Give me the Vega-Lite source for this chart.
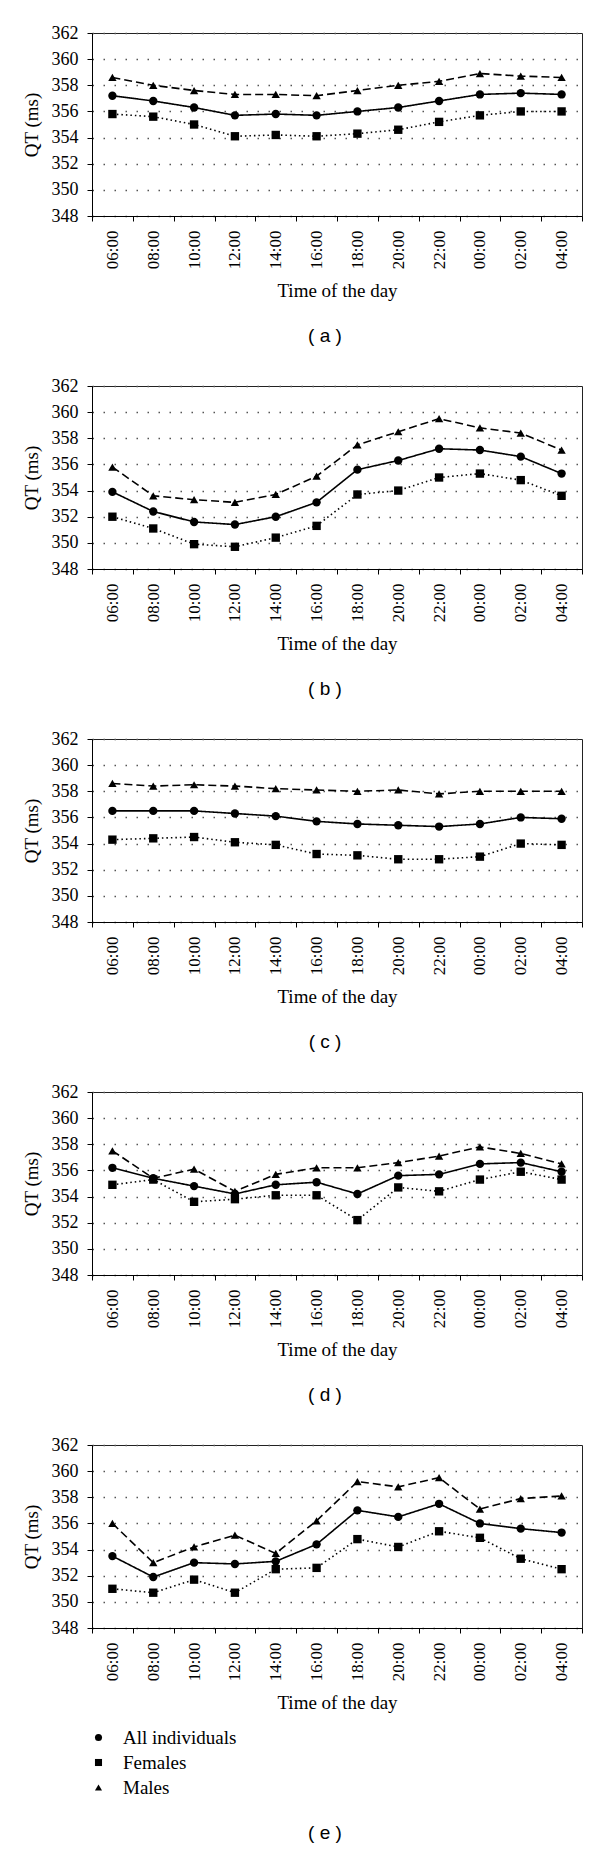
{
  "$schema": "https://vega.github.io/schema/vega-lite/v6.json",
  "padding": {"left": 21, "top": 23, "right": 5, "bottom": 5},
  "background": "white",
  "spacing": 29,
  "config": {
    "view": {"stroke": "#222", "strokeWidth": 1},
    "font": "Liberation Serif",
    "axis": {"labelFont": "Liberation Serif", "labelFontSize": 18, "labelColor": "black", "titleFont": "Liberation Serif", "titleFontSize": 19, "titleFontWeight": "normal", "titleColor": "black", "domainColor": "black", "tickColor": "black", "tickSize": 5},
    "axisX": {"labelFontSize": 17},
    "title": {"font": "Liberation Sans", "fontSize": 19, "fontWeight": "normal", "color": "black", "orient": "bottom", "offset": 26, "dx": -12},
    "point": {"size": 70, "filled": true, "color": "black", "opacity": 1}
  },
  "resolve": {"scale": {"shape": "independent", "strokeDash": "independent"}, "legend": {"shape": "independent", "strokeDash": "independent"}},
  "data": {"values": [
    {"panel":"a","time":"06:00","group":"All individuals","qt":357.2},{"panel":"a","time":"08:00","group":"All individuals","qt":356.8},{"panel":"a","time":"10:00","group":"All individuals","qt":356.3},{"panel":"a","time":"12:00","group":"All individuals","qt":355.7},{"panel":"a","time":"14:00","group":"All individuals","qt":355.8},{"panel":"a","time":"16:00","group":"All individuals","qt":355.7},{"panel":"a","time":"18:00","group":"All individuals","qt":356.0},{"panel":"a","time":"20:00","group":"All individuals","qt":356.3},{"panel":"a","time":"22:00","group":"All individuals","qt":356.8},{"panel":"a","time":"00:00","group":"All individuals","qt":357.3},{"panel":"a","time":"02:00","group":"All individuals","qt":357.4},{"panel":"a","time":"04:00","group":"All individuals","qt":357.3},
    {"panel":"a","time":"06:00","group":"Females","qt":355.8},{"panel":"a","time":"08:00","group":"Females","qt":355.6},{"panel":"a","time":"10:00","group":"Females","qt":355.0},{"panel":"a","time":"12:00","group":"Females","qt":354.1},{"panel":"a","time":"14:00","group":"Females","qt":354.2},{"panel":"a","time":"16:00","group":"Females","qt":354.1},{"panel":"a","time":"18:00","group":"Females","qt":354.3},{"panel":"a","time":"20:00","group":"Females","qt":354.6},{"panel":"a","time":"22:00","group":"Females","qt":355.2},{"panel":"a","time":"00:00","group":"Females","qt":355.7},{"panel":"a","time":"02:00","group":"Females","qt":356.0},{"panel":"a","time":"04:00","group":"Females","qt":356.0},
    {"panel":"a","time":"06:00","group":"Males","qt":358.6},{"panel":"a","time":"08:00","group":"Males","qt":358.0},{"panel":"a","time":"10:00","group":"Males","qt":357.6},{"panel":"a","time":"12:00","group":"Males","qt":357.3},{"panel":"a","time":"14:00","group":"Males","qt":357.3},{"panel":"a","time":"16:00","group":"Males","qt":357.2},{"panel":"a","time":"18:00","group":"Males","qt":357.6},{"panel":"a","time":"20:00","group":"Males","qt":358.0},{"panel":"a","time":"22:00","group":"Males","qt":358.3},{"panel":"a","time":"00:00","group":"Males","qt":358.9},{"panel":"a","time":"02:00","group":"Males","qt":358.7},{"panel":"a","time":"04:00","group":"Males","qt":358.6},

    {"panel":"b","time":"06:00","group":"All individuals","qt":353.9},{"panel":"b","time":"08:00","group":"All individuals","qt":352.4},{"panel":"b","time":"10:00","group":"All individuals","qt":351.6},{"panel":"b","time":"12:00","group":"All individuals","qt":351.4},{"panel":"b","time":"14:00","group":"All individuals","qt":352.0},{"panel":"b","time":"16:00","group":"All individuals","qt":353.1},{"panel":"b","time":"18:00","group":"All individuals","qt":355.6},{"panel":"b","time":"20:00","group":"All individuals","qt":356.3},{"panel":"b","time":"22:00","group":"All individuals","qt":357.2},{"panel":"b","time":"00:00","group":"All individuals","qt":357.1},{"panel":"b","time":"02:00","group":"All individuals","qt":356.6},{"panel":"b","time":"04:00","group":"All individuals","qt":355.3},
    {"panel":"b","time":"06:00","group":"Females","qt":352.0},{"panel":"b","time":"08:00","group":"Females","qt":351.1},{"panel":"b","time":"10:00","group":"Females","qt":349.9},{"panel":"b","time":"12:00","group":"Females","qt":349.7},{"panel":"b","time":"14:00","group":"Females","qt":350.4},{"panel":"b","time":"16:00","group":"Females","qt":351.3},{"panel":"b","time":"18:00","group":"Females","qt":353.7},{"panel":"b","time":"20:00","group":"Females","qt":354.0},{"panel":"b","time":"22:00","group":"Females","qt":355.0},{"panel":"b","time":"00:00","group":"Females","qt":355.3},{"panel":"b","time":"02:00","group":"Females","qt":354.8},{"panel":"b","time":"04:00","group":"Females","qt":353.6},
    {"panel":"b","time":"06:00","group":"Males","qt":355.8},{"panel":"b","time":"08:00","group":"Males","qt":353.6},{"panel":"b","time":"10:00","group":"Males","qt":353.3},{"panel":"b","time":"12:00","group":"Males","qt":353.1},{"panel":"b","time":"14:00","group":"Males","qt":353.7},{"panel":"b","time":"16:00","group":"Males","qt":355.1},{"panel":"b","time":"18:00","group":"Males","qt":357.5},{"panel":"b","time":"20:00","group":"Males","qt":358.5},{"panel":"b","time":"22:00","group":"Males","qt":359.5},{"panel":"b","time":"00:00","group":"Males","qt":358.8},{"panel":"b","time":"02:00","group":"Males","qt":358.4},{"panel":"b","time":"04:00","group":"Males","qt":357.1},

    {"panel":"c","time":"06:00","group":"All individuals","qt":356.5},{"panel":"c","time":"08:00","group":"All individuals","qt":356.5},{"panel":"c","time":"10:00","group":"All individuals","qt":356.5},{"panel":"c","time":"12:00","group":"All individuals","qt":356.3},{"panel":"c","time":"14:00","group":"All individuals","qt":356.1},{"panel":"c","time":"16:00","group":"All individuals","qt":355.7},{"panel":"c","time":"18:00","group":"All individuals","qt":355.5},{"panel":"c","time":"20:00","group":"All individuals","qt":355.4},{"panel":"c","time":"22:00","group":"All individuals","qt":355.3},{"panel":"c","time":"00:00","group":"All individuals","qt":355.5},{"panel":"c","time":"02:00","group":"All individuals","qt":356.0},{"panel":"c","time":"04:00","group":"All individuals","qt":355.9},
    {"panel":"c","time":"06:00","group":"Females","qt":354.3},{"panel":"c","time":"08:00","group":"Females","qt":354.4},{"panel":"c","time":"10:00","group":"Females","qt":354.5},{"panel":"c","time":"12:00","group":"Females","qt":354.1},{"panel":"c","time":"14:00","group":"Females","qt":353.9},{"panel":"c","time":"16:00","group":"Females","qt":353.2},{"panel":"c","time":"18:00","group":"Females","qt":353.1},{"panel":"c","time":"20:00","group":"Females","qt":352.8},{"panel":"c","time":"22:00","group":"Females","qt":352.8},{"panel":"c","time":"00:00","group":"Females","qt":353.0},{"panel":"c","time":"02:00","group":"Females","qt":354.0},{"panel":"c","time":"04:00","group":"Females","qt":353.9},
    {"panel":"c","time":"06:00","group":"Males","qt":358.6},{"panel":"c","time":"08:00","group":"Males","qt":358.4},{"panel":"c","time":"10:00","group":"Males","qt":358.5},{"panel":"c","time":"12:00","group":"Males","qt":358.4},{"panel":"c","time":"14:00","group":"Males","qt":358.2},{"panel":"c","time":"16:00","group":"Males","qt":358.1},{"panel":"c","time":"18:00","group":"Males","qt":358.0},{"panel":"c","time":"20:00","group":"Males","qt":358.1},{"panel":"c","time":"22:00","group":"Males","qt":357.8},{"panel":"c","time":"00:00","group":"Males","qt":358.0},{"panel":"c","time":"02:00","group":"Males","qt":358.0},{"panel":"c","time":"04:00","group":"Males","qt":358.0},

    {"panel":"d","time":"06:00","group":"All individuals","qt":356.2},{"panel":"d","time":"08:00","group":"All individuals","qt":355.4},{"panel":"d","time":"10:00","group":"All individuals","qt":354.8},{"panel":"d","time":"12:00","group":"All individuals","qt":354.2},{"panel":"d","time":"14:00","group":"All individuals","qt":354.9},{"panel":"d","time":"16:00","group":"All individuals","qt":355.1},{"panel":"d","time":"18:00","group":"All individuals","qt":354.2},{"panel":"d","time":"20:00","group":"All individuals","qt":355.6},{"panel":"d","time":"22:00","group":"All individuals","qt":355.7},{"panel":"d","time":"00:00","group":"All individuals","qt":356.5},{"panel":"d","time":"02:00","group":"All individuals","qt":356.6},{"panel":"d","time":"04:00","group":"All individuals","qt":355.9},
    {"panel":"d","time":"06:00","group":"Females","qt":354.9},{"panel":"d","time":"08:00","group":"Females","qt":355.3},{"panel":"d","time":"10:00","group":"Females","qt":353.6},{"panel":"d","time":"12:00","group":"Females","qt":353.8},{"panel":"d","time":"14:00","group":"Females","qt":354.1},{"panel":"d","time":"16:00","group":"Females","qt":354.1},{"panel":"d","time":"18:00","group":"Females","qt":352.2},{"panel":"d","time":"20:00","group":"Females","qt":354.7},{"panel":"d","time":"22:00","group":"Females","qt":354.4},{"panel":"d","time":"00:00","group":"Females","qt":355.3},{"panel":"d","time":"02:00","group":"Females","qt":355.9},{"panel":"d","time":"04:00","group":"Females","qt":355.3},
    {"panel":"d","time":"06:00","group":"Males","qt":357.5},{"panel":"d","time":"08:00","group":"Males","qt":355.4},{"panel":"d","time":"10:00","group":"Males","qt":356.1},{"panel":"d","time":"12:00","group":"Males","qt":354.4},{"panel":"d","time":"14:00","group":"Males","qt":355.7},{"panel":"d","time":"16:00","group":"Males","qt":356.2},{"panel":"d","time":"18:00","group":"Males","qt":356.2},{"panel":"d","time":"20:00","group":"Males","qt":356.6},{"panel":"d","time":"22:00","group":"Males","qt":357.1},{"panel":"d","time":"00:00","group":"Males","qt":357.8},{"panel":"d","time":"02:00","group":"Males","qt":357.3},{"panel":"d","time":"04:00","group":"Males","qt":356.5},

    {"panel":"e","time":"06:00","group":"All individuals","qt":353.5},{"panel":"e","time":"08:00","group":"All individuals","qt":351.9},{"panel":"e","time":"10:00","group":"All individuals","qt":353.0},{"panel":"e","time":"12:00","group":"All individuals","qt":352.9},{"panel":"e","time":"14:00","group":"All individuals","qt":353.1},{"panel":"e","time":"16:00","group":"All individuals","qt":354.4},{"panel":"e","time":"18:00","group":"All individuals","qt":357.0},{"panel":"e","time":"20:00","group":"All individuals","qt":356.5},{"panel":"e","time":"22:00","group":"All individuals","qt":357.5},{"panel":"e","time":"00:00","group":"All individuals","qt":356.0},{"panel":"e","time":"02:00","group":"All individuals","qt":355.6},{"panel":"e","time":"04:00","group":"All individuals","qt":355.3},
    {"panel":"e","time":"06:00","group":"Females","qt":351.0},{"panel":"e","time":"08:00","group":"Females","qt":350.7},{"panel":"e","time":"10:00","group":"Females","qt":351.7},{"panel":"e","time":"12:00","group":"Females","qt":350.7},{"panel":"e","time":"14:00","group":"Females","qt":352.5},{"panel":"e","time":"16:00","group":"Females","qt":352.6},{"panel":"e","time":"18:00","group":"Females","qt":354.8},{"panel":"e","time":"20:00","group":"Females","qt":354.2},{"panel":"e","time":"22:00","group":"Females","qt":355.4},{"panel":"e","time":"00:00","group":"Females","qt":354.9},{"panel":"e","time":"02:00","group":"Females","qt":353.3},{"panel":"e","time":"04:00","group":"Females","qt":352.5},
    {"panel":"e","time":"06:00","group":"Males","qt":356.0},{"panel":"e","time":"08:00","group":"Males","qt":353.0},{"panel":"e","time":"10:00","group":"Males","qt":354.2},{"panel":"e","time":"12:00","group":"Males","qt":355.1},{"panel":"e","time":"14:00","group":"Males","qt":353.7},{"panel":"e","time":"16:00","group":"Males","qt":356.2},{"panel":"e","time":"18:00","group":"Males","qt":359.2},{"panel":"e","time":"20:00","group":"Males","qt":358.8},{"panel":"e","time":"22:00","group":"Males","qt":359.5},{"panel":"e","time":"00:00","group":"Males","qt":357.1},{"panel":"e","time":"02:00","group":"Males","qt":357.9},{"panel":"e","time":"04:00","group":"Males","qt":358.1}
  ]},
  "vconcat": [
    {
      "width": 490, "height": 183,
      "title": {"text": "( a )"},
      "transform": [{"filter": "datum.panel == 'a'"}],
      "encoding": {
        "x": {"field": "time", "type": "ordinal", "sort": ["06:00","08:00","10:00","12:00","14:00","16:00","18:00","20:00","22:00","00:00","02:00","04:00"], "scale": {"type": "band", "paddingInner": 0, "paddingOuter": 0}, "axis": {"title": "Time of the day", "labelAngle": -90, "tickBand": "extent", "labelPadding": 9, "titlePadding": 13, "grid": false}},
        "y": {"field": "qt", "type": "quantitative", "scale": {"domain": [348, 362], "zero": false, "nice": false}, "axis": {"title": "QT (ms)", "values": [348,350,352,354,356,358,360,362], "labelPadding": 9, "titlePadding": 10, "grid": true, "gridDash": [1.5, 9.5], "gridColor": "#555", "gridWidth": 1.3}}
      },
      "layer": [
        {"mark": {"type": "line", "color": "black", "strokeWidth": 1.6}, "encoding": {"strokeDash": {"field": "group", "type": "nominal", "scale": {"range": [[1,0],[1.5,3],[8,4]]}, "legend": null}}},
        {"mark": {"type": "point"}, "encoding": {"shape": {"field": "group", "type": "nominal", "scale": {"domain": ["All individuals","Females","Males"], "range": ["circle","square","triangle-up"]}, "legend": null}}}
      ]
    },
    {
      "width": 490, "height": 183,
      "title": {"text": "( b )"},
      "transform": [{"filter": "datum.panel == 'b'"}],
      "encoding": {
        "x": {"field": "time", "type": "ordinal", "sort": ["06:00","08:00","10:00","12:00","14:00","16:00","18:00","20:00","22:00","00:00","02:00","04:00"], "scale": {"type": "band", "paddingInner": 0, "paddingOuter": 0}, "axis": {"title": "Time of the day", "labelAngle": -90, "tickBand": "extent", "labelPadding": 9, "titlePadding": 13, "grid": false}},
        "y": {"field": "qt", "type": "quantitative", "scale": {"domain": [348, 362], "zero": false, "nice": false}, "axis": {"title": "QT (ms)", "values": [348,350,352,354,356,358,360,362], "labelPadding": 9, "titlePadding": 10, "grid": true, "gridDash": [1.5, 9.5], "gridColor": "#555", "gridWidth": 1.3}}
      },
      "layer": [
        {"mark": {"type": "line", "color": "black", "strokeWidth": 1.6}, "encoding": {"strokeDash": {"field": "group", "type": "nominal", "scale": {"range": [[1,0],[1.5,3],[8,4]]}, "legend": null}}},
        {"mark": {"type": "point"}, "encoding": {"shape": {"field": "group", "type": "nominal", "scale": {"domain": ["All individuals","Females","Males"], "range": ["circle","square","triangle-up"]}, "legend": null}}}
      ]
    },
    {
      "width": 490, "height": 183,
      "title": {"text": "( c )"},
      "transform": [{"filter": "datum.panel == 'c'"}],
      "encoding": {
        "x": {"field": "time", "type": "ordinal", "sort": ["06:00","08:00","10:00","12:00","14:00","16:00","18:00","20:00","22:00","00:00","02:00","04:00"], "scale": {"type": "band", "paddingInner": 0, "paddingOuter": 0}, "axis": {"title": "Time of the day", "labelAngle": -90, "tickBand": "extent", "labelPadding": 9, "titlePadding": 13, "grid": false}},
        "y": {"field": "qt", "type": "quantitative", "scale": {"domain": [348, 362], "zero": false, "nice": false}, "axis": {"title": "QT (ms)", "values": [348,350,352,354,356,358,360,362], "labelPadding": 9, "titlePadding": 10, "grid": true, "gridDash": [1.5, 9.5], "gridColor": "#555", "gridWidth": 1.3}}
      },
      "layer": [
        {"mark": {"type": "line", "color": "black", "strokeWidth": 1.6}, "encoding": {"strokeDash": {"field": "group", "type": "nominal", "scale": {"range": [[1,0],[1.5,3],[8,4]]}, "legend": null}}},
        {"mark": {"type": "point"}, "encoding": {"shape": {"field": "group", "type": "nominal", "scale": {"domain": ["All individuals","Females","Males"], "range": ["circle","square","triangle-up"]}, "legend": null}}}
      ]
    },
    {
      "width": 490, "height": 183,
      "title": {"text": "( d )"},
      "transform": [{"filter": "datum.panel == 'd'"}],
      "encoding": {
        "x": {"field": "time", "type": "ordinal", "sort": ["06:00","08:00","10:00","12:00","14:00","16:00","18:00","20:00","22:00","00:00","02:00","04:00"], "scale": {"type": "band", "paddingInner": 0, "paddingOuter": 0}, "axis": {"title": "Time of the day", "labelAngle": -90, "tickBand": "extent", "labelPadding": 9, "titlePadding": 13, "grid": false}},
        "y": {"field": "qt", "type": "quantitative", "scale": {"domain": [348, 362], "zero": false, "nice": false}, "axis": {"title": "QT (ms)", "values": [348,350,352,354,356,358,360,362], "labelPadding": 9, "titlePadding": 10, "grid": true, "gridDash": [1.5, 9.5], "gridColor": "#555", "gridWidth": 1.3}}
      },
      "layer": [
        {"mark": {"type": "line", "color": "black", "strokeWidth": 1.6}, "encoding": {"strokeDash": {"field": "group", "type": "nominal", "scale": {"range": [[1,0],[1.5,3],[8,4]]}, "legend": null}}},
        {"mark": {"type": "point"}, "encoding": {"shape": {"field": "group", "type": "nominal", "scale": {"domain": ["All individuals","Females","Males"], "range": ["circle","square","triangle-up"]}, "legend": null}}}
      ]
    },
    {
      "width": 490, "height": 183,
      "title": {"text": "( e )"},
      "transform": [{"filter": "datum.panel == 'e'"}],
      "encoding": {
        "x": {"field": "time", "type": "ordinal", "sort": ["06:00","08:00","10:00","12:00","14:00","16:00","18:00","20:00","22:00","00:00","02:00","04:00"], "scale": {"type": "band", "paddingInner": 0, "paddingOuter": 0}, "axis": {"title": "Time of the day", "labelAngle": -90, "tickBand": "extent", "labelPadding": 9, "titlePadding": 13, "grid": false}},
        "y": {"field": "qt", "type": "quantitative", "scale": {"domain": [348, 362], "zero": false, "nice": false}, "axis": {"title": "QT (ms)", "values": [348,350,352,354,356,358,360,362], "labelPadding": 9, "titlePadding": 10, "grid": true, "gridDash": [1.5, 9.5], "gridColor": "#555", "gridWidth": 1.3}}
      },
      "layer": [
        {"mark": {"type": "line", "color": "black", "strokeWidth": 1.6}, "encoding": {"strokeDash": {"field": "group", "type": "nominal", "scale": {"range": [[1,0],[1.5,3],[8,4]]}, "legend": null}}},
        {"mark": {"type": "point"}, "encoding": {"shape": {"field": "group", "type": "nominal", "scale": {"domain": ["All individuals","Females","Males"], "range": ["circle","square","triangle-up"]}, "legend": {"title": null, "orient": "none", "legendX": -3, "legendY": 283, "direction": "vertical", "labelFont": "Liberation Serif", "labelFontSize": 19, "labelColor": "black", "symbolSize": 50, "symbolFillColor": "black", "symbolStrokeColor": "black", "rowPadding": 5, "labelOffset": 15}}}}
      ]
    }
  ]
}
